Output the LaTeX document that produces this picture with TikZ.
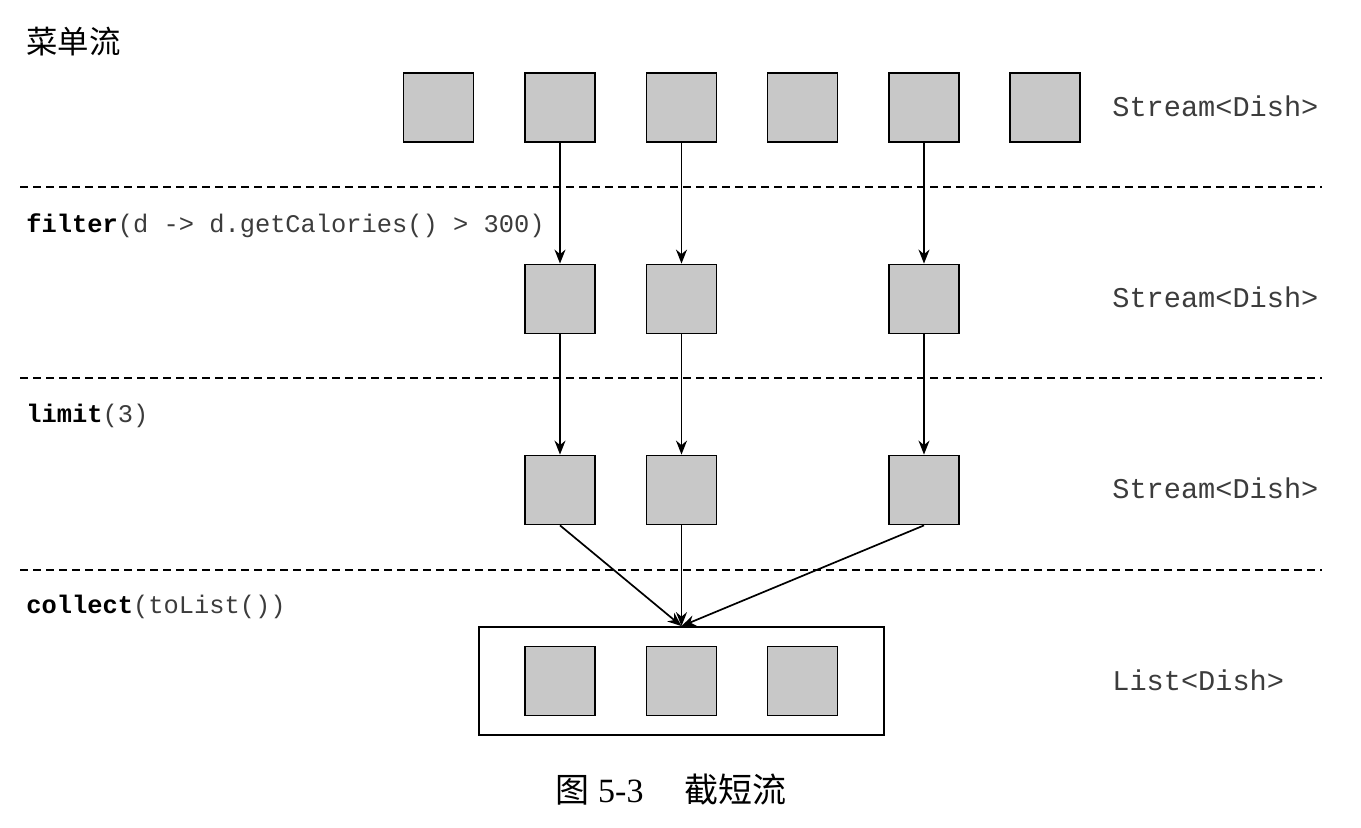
\documentclass[tikz,border=0pt]{standalone}
\usepackage{fontspec}
\setmainfont{Liberation Serif}
\setmonofont{Liberation Mono}
\newfontfamily\cjksans{Noto Sans CJK SC}
\usepackage{xcolor}
\usepackage{tikz}
\usetikzlibrary{positioning,arrows.meta}
\definecolor{dishgray}{RGB}{200,200,200}
\definecolor{codegray}{RGB}{60,60,60}

\begin{document}
\begin{tikzpicture}[
        x=0.5pt, y=-0.5pt,
        dish/.style={rectangle, draw=black, line width=0.9pt, fill=dishgray,
                     minimum width=35pt, minimum height=34.5pt, inner sep=0pt},
        listbox/.style={rectangle, draw=black, line width=0.9pt, fill=white,
                        minimum width=202.5pt, minimum height=54pt, inner sep=0pt},
        opname/.style={anchor=west, inner sep=0pt, text=black,
                       font=\ttfamily\fontsize{12.7}{15}\selectfont},
        typename/.style={anchor=west, inner sep=0pt, text=codegray,
                         font=\ttfamily\fontsize{14.3}{17}\selectfont},
        sep/.style={dashed, dash pattern=on 4pt off 2.5pt, line width=0.7pt},
        arrow/.style={-{Stealth[length=7pt,width=5.5pt]}, line width=0.85pt}
    ]
        \useasboundingbox (0,0) rectangle (1361,828);

        % 标题
        \node[anchor=west, inner sep=0pt, font=\cjksans\fontsize{15.7}{18}\selectfont] (title) at (26,42) {菜单流};

        % 原始流
        \node[dish] (a1) at (438.5,107.5) {};
        \node[dish] (a2) at (560,107.5) {};
        \node[dish] (a3) at (681.5,107.5) {};
        \node[dish] (a4) at (802.5,107.5) {};
        \node[dish] (a5) at (924,107.5) {};
        \node[dish] (a6) at (1045,107.5) {};
        \node[typename] (ta) at (1112,106) {Stream<Dish>};

        % 分隔线
        \coordinate (s1l) at (20,187);  \coordinate (s1r) at (1322,187);
        \coordinate (s2l) at (20,378);  \coordinate (s2r) at (1322,378);
        \coordinate (s3l) at (20,570);  \coordinate (s3r) at (1322,570);
        \draw[sep] (s1l) -- (s1r);
        \draw[sep] (s2l) -- (s2r);
        \draw[sep] (s3l) -- (s3r);

        % filter
        \node[opname] (opf) at (26,226) {\textbf{filter}\textcolor{codegray}{(d -> d.getCalories() > 300)}};
        \node[dish] (b1) at (560,299) {};
        \node[dish] (b2) at (681.5,299) {};
        \node[dish] (b3) at (924,299) {};
        \node[typename] (tb) at (1112,297) {Stream<Dish>};

        % limit
        \node[opname] (opl) at (26,416) {\textbf{limit}\textcolor{codegray}{(3)}};
        \node[dish] (c1) at (560,490) {};
        \node[dish] (c2) at (681.5,490) {};
        \node[dish] (c3) at (924,490) {};
        \node[typename] (tc) at (1112,488) {Stream<Dish>};

        % collect
        \node[opname] (opc) at (26,607) {\textbf{collect}\textcolor{codegray}{(toList())}};
        \node[listbox] (list) at (681.5,681) {};
        \node[dish] (d1) at (560,681) {};
        \node[dish] (d2) at (681.5,681) {};
        \node[dish] (d3) at (802.5,681) {};
        \node[typename] (td) at (1112,680) {List<Dish>};

        % 箭头连接
        \draw[arrow] (a2) -- (b1);
        \draw[arrow] (a3) -- (b2);
        \draw[arrow] (a5) -- (b3);
        \draw[arrow] (b1) -- (c1);
        \draw[arrow] (b2) -- (c2);
        \draw[arrow] (b3) -- (c3);
        \draw[arrow] (c1.south) -- (list.north);
        \draw[arrow] (c2.south) -- (list.north);
        \draw[arrow] (c3.south) -- (list.north);

        % 图注
        \node[inner sep=0pt, font=\fontsize{17}{20}\selectfont] (caption) at (671,790)
            {{\cjksans 图}~5-3\hspace{1.2em}{\cjksans 截短流}};
    \end{tikzpicture}
\end{document}
